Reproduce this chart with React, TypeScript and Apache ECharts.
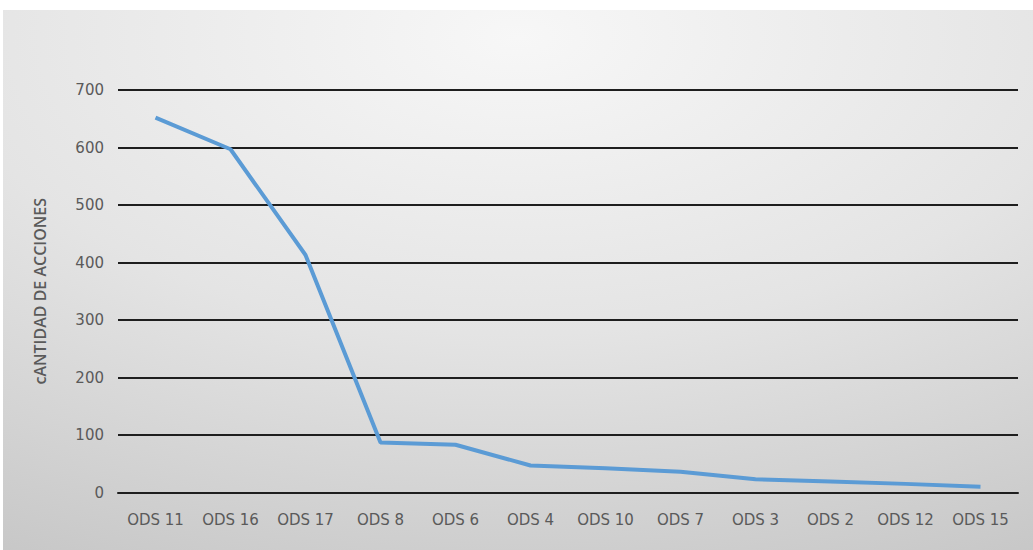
import React, { useEffect, useRef } from "react";
import * as echarts from "echarts";

const categories = ["ODS 11", "ODS 16", "ODS 17", "ODS 8", "ODS 6", "ODS 4", "ODS 10", "ODS 7", "ODS 3", "ODS 2", "ODS 12", "ODS 15"];
const acciones = [652, 597, 413, 87, 83, 47, 42, 36, 23, 19, 15, 10];
const yTicks = { min: 0, max: 700, interval: 100 };
const yTitle = "cANTIDAD DE ACCIONES";

export default function App() {
  const ref = useRef<HTMLDivElement>(null);
  useEffect(() => {
    if (!ref.current) return;
    const chart = echarts.init(ref.current, null, { renderer: "svg" });
    const font = "'DejaVu Sans', 'Open Sans', sans-serif";
    chart.setOption({
      animation: false,
      graphic: [
        {
          type: "rect",
          z: -10,
          silent: true,
          shape: { x: 3, y: 10, width: 1030, height: 540 },
          style: {
            fill: new echarts.graphic.RadialGradient(0.5, 0.05, 1.1, [
              { offset: 0, color: "#f7f7f7" },
              { offset: 0.5, color: "#e4e4e4" },
              { offset: 1, color: "#c6c6c6" },
            ]),
          },
        },
      ],
      grid: { left: 118, right: 15, top: 90, bottom: 57.5, containLabel: false },
      xAxis: {
        type: "category",
        data: categories,
        boundaryGap: true,
        axisLine: { show: true, lineStyle: { color: "#1e1e1e", width: 2 } },
        axisTick: { show: false },
        axisLabel: { color: "#5a5a5a", fontSize: 15, fontFamily: font, margin: 20, interval: 0 },
      },
      yAxis: {
        type: "value",
        min: yTicks.min,
        max: yTicks.max,
        interval: yTicks.interval,
        name: yTitle,
        nameLocation: "middle",
        nameGap: 70,
        nameRotate: 90,
        nameTextStyle: { color: "#5a5a5a", fontSize: 16, fontFamily: "'Open Sans', sans-serif", fontWeight: 600 },
        axisLine: { show: false },
        axisTick: { show: false },
        axisLabel: { color: "#5a5a5a", fontSize: 15, fontFamily: font, margin: 14 },
        splitLine: { show: true, lineStyle: { color: "#1e1e1e", width: 2 } },
      },
      series: [
        {
          type: "line",
          data: acciones,
          showSymbol: false,
          symbol: "none",
          lineStyle: { color: "#5b9bd5", width: 4 },
          itemStyle: { color: "#5b9bd5" },
        },
      ],
    });
    return () => chart.dispose();
  }, []);
  return (
    <div
      ref={ref}
      style={{ position: "fixed", left: 0, top: 0, width: 1033, height: 550, background: "#ffffff" }}
    />
  );
}
